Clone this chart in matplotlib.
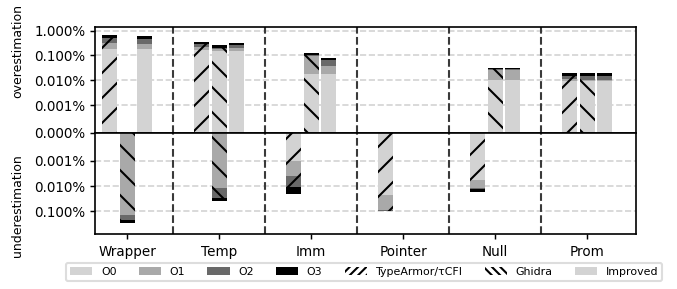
import numpy as np
import matplotlib
matplotlib.use('Agg')
import matplotlib.pyplot as plt
from matplotlib.patches import Patch

groups = ['Wrapper', 'Temp', 'Imm', 'Pointer', 'Null', 'Prom']
levels = ['O0', 'O1', 'O2', 'O3']
level_colors = ['lightgray', 'darkgray', 'dimgray', 'black']
tools = ['TypeArmor/τCFI', 'Ghidra', 'Improved']
tool_hatches = ['//', '\\\\', None]

# cumulative share (in %) after O0, O1, O2, O3 for every category
ta_over = [[0.18, 0.32, 0.51, 0.65],
           [0.163, 0.215, 0.28, 0.34],
           [0, 0, 0, 0],
           [0, 0, 0, 0],
           [0, 0, 0, 0],
           [0.0097, 0.0113, 0.0149, 0.0197]]
ghidra_over = [[0, 0, 0, 0],
               [0.158, 0.18, 0.196, 0.26],
               [0.0179, 0.097, 0.106, 0.124],
               [0, 0, 0, 0],
               [0.01, 0.026, 0.029, 0.032],
               [0.0097, 0.0105, 0.0149, 0.0197]]
improved_over = [[0.18, 0.29, 0.45, 0.59],
                 [0.149, 0.196, 0.26, 0.31],
                 [0.0179, 0.0374, 0.065, 0.078],
                 [0, 0, 0, 0],
                 [0.01, 0.026, 0.029, 0.032],
                 [0.0095, 0.0107, 0.0149, 0.0197]]

ta_under = [[0, 0, 0, 0],
            [0, 0, 0, 0],
            [0.00103, 0.00386, 0.011, 0.0216],
            [0.0236, 0.095, 0.097, 0.1],
            [0.0056, 0.0115, 0.0135, 0.017],
            [0, 0, 0, 0]]
ghidra_under = [[0, 0.14, 0.236, 0.31],
                [0, 0.012, 0.030, 0.041],
                [0, 0, 0, 0],
                [0, 0, 0, 0],
                [0, 0, 0, 0],
                [0, 0, 0, 0]]
improved_under = [[0, 0, 0, 0] for _ in groups]

over_ticks = [7.6e-5, 1e-3, 1e-2, 1e-1, 1]
over_labels = ['0.000%', '0.001%', '0.010%', '0.100%', '1.000%']
under_ticks = [1e-3, 1e-2, 1e-1]
under_labels = ['0.001%', '0.010%', '0.100%']

FS = 6.5
offsets = [-0.19, 0.0, 0.19]
width = 0.165


def draw_stack(ax, data, off, hatch):
    x = np.arange(len(groups)) + off
    data = np.array(data, dtype=float)
    prev = np.zeros(len(groups))
    for j in range(len(levels)):
        top = data[:, j]
        h = top - prev
        for i in range(len(groups)):
            if h[i] > 0:
                ax.bar(x[i], h[i], width, bottom=prev[i], color=level_colors[j],
                       hatch=hatch, linewidth=0)
        prev = np.maximum(prev, top)


def style_axis(ax, ticks, labels):
    ax.set_yscale('log')
    ax.set_xlim(-0.35, 5.53)
    ax.set_yticks(ticks)
    ax.set_yticklabels(labels, fontsize=FS)
    ax.yaxis.set_minor_locator(matplotlib.ticker.NullLocator())
    ax.set_axisbelow(True)
    ax.grid(axis='y', color='lightgray', linestyle='--', linewidth=0.8)
    for xv in np.arange(0.5, len(groups) - 0.5):
        ax.axvline(xv, color='#3a3a3a', linestyle='--', linewidth=1.0)
    ax.tick_params(axis='y', length=2.5, width=0.7, pad=2)
    for s in ax.spines.values():
        s.set_linewidth(0.8)


fig = plt.figure(figsize=(678 / 150, 289 / 150))
ax1 = fig.add_axes([0.1401, 0.5398, 0.798, 0.3668])
ax2 = fig.add_axes([0.1401, 0.1903, 0.798, 0.3495])

over = [ta_over, ghidra_over, improved_over]
under = [ta_under, ghidra_under, improved_under]
for k in range(len(tools)):
    draw_stack(ax1, over[k], offsets[k], tool_hatches[k])
    draw_stack(ax2, under[k], offsets[k], tool_hatches[k])

style_axis(ax1, over_ticks, over_labels)
style_axis(ax2, under_ticks, under_labels)
ax1.set_ylim(7.6e-5, 1.4)
ax2.set_ylim(0.83, 7.6e-5)

ax1.tick_params(axis='x', bottom=False, labelbottom=False)
ax2.set_xticks(np.arange(len(groups)))
ax2.set_xticklabels(groups, fontsize=FS)
ax2.tick_params(axis='x', length=2.5, width=0.7, pad=3)

fig.text(0.0265, 0.822, 'overestimation', rotation=90, ha='center', va='center', fontsize=6)
fig.text(0.0265, 0.287, 'underestimation', rotation=90, ha='center', va='center', fontsize=6)

handles = [Patch(facecolor=c) for c in level_colors]
handles += [Patch(facecolor='white', hatch='//////'),
            Patch(facecolor='white', hatch='\\\\\\\\\\\\'),
            Patch(facecolor='lightgray')]
labels = levels + tools
fig.legend(handles, labels, loc='center', bbox_to_anchor=(0.537, 0.059), ncol=7,
           fontsize=5.3, framealpha=1, edgecolor='#dddddd')

fig.savefig('out.png', dpi=150)
